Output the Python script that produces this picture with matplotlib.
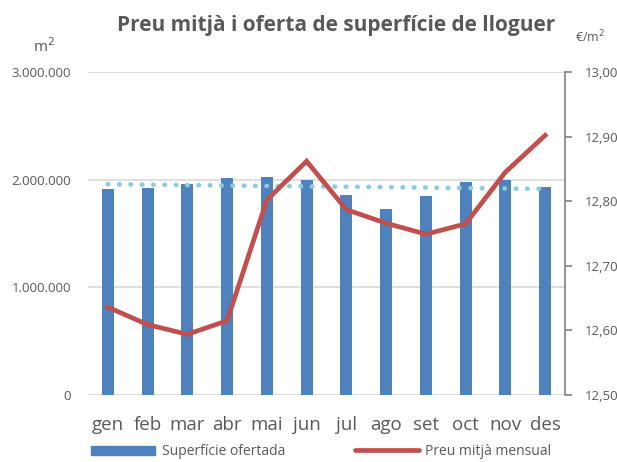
import matplotlib
matplotlib.use("Agg")
import matplotlib.pyplot as plt
from matplotlib.ticker import FuncFormatter

plt.rcParams['font.family'] = ['Open Sans', 'DejaVu Sans']

months = ['gen', 'feb', 'mar', 'abr', 'mai', 'jun', 'jul', 'ago', 'set', 'oct', 'nov', 'des']
superficie = [1910000, 1925000, 1960000, 2020000, 2025000, 1995000,
              1862000, 1730000, 1850000, 1978000, 2000000, 1935000]
preu = [12.636, 12.609, 12.594, 12.615, 12.802, 12.862,
        12.787, 12.766, 12.749, 12.765, 12.845, 12.902]
# tendència lineal (extrems llegits del gràfic)
tend_x = [0, 11]
tend_y = [1958000, 1915000]

blue = '#4F81BD'
red = '#C0504D'
trend_col = '#8DCBDD'
grey = '#595959'
grid_col = '#D9D9D9'

fig = plt.figure(figsize=(6.17, 4.62), dpi=100)
ax = fig.add_axes([0.1426, 0.145, 0.7731, 0.699])
ax2 = ax.twinx()

x = list(range(len(months)))
ax.bar(x, superficie, width=0.3, color=blue, zorder=2)
ax.plot(tend_x, tend_y, color=trend_col, lw=3.4, linestyle=(0, (0.1, 2.3)),
        dash_capstyle='round', zorder=3)
ax2.plot(x, preu, color=red, lw=3.4, solid_joinstyle='miter', zorder=4)

ax.set_xlim(-0.5, 11.5)
ax.set_ylim(0, 3000000)
ax.set_yticks([0, 1000000, 2000000, 3000000])
ax.yaxis.set_major_formatter(FuncFormatter(lambda v, p: f"{int(v):,}".replace(',', '.')))
ax.grid(axis='y', color=grid_col, lw=1.2, zorder=0)
ax.set_axisbelow(True)
for s in ['top', 'left', 'right', 'bottom']:
    ax.spines[s].set_visible(False)
ax.tick_params(axis='y', length=0, pad=12, labelsize=9.5, labelcolor=grey)
ax.set_xticks(x)
ax.set_xticklabels(months)
ax.tick_params(axis='x', length=0, pad=15, labelsize=13.5, labelcolor=grey)

ax2.set_ylim(12.5, 13.0)
ax2.set_yticks([12.5, 12.6, 12.7, 12.8, 12.9, 13.0])
ax2.yaxis.set_major_formatter(FuncFormatter(lambda v, p: f"{v:.2f}".replace('.', ',')))
for s in ['top', 'left', 'bottom']:
    ax2.spines[s].set_visible(False)
ax2.spines['right'].set_color('#808080')
ax2.spines['right'].set_linewidth(1.2)
ax2.tick_params(axis='y', direction='out', length=5, width=1.2, color='#808080',
                pad=9, labelsize=9.5, labelcolor=grey)
ax.set_zorder(ax2.get_zorder() - 1)
ax2.patch.set_visible(False)

fig.text(0.545, 0.945, 'Preu mitjà i oferta de superfície de lloguer', ha='center',
         va='center', fontsize=15, fontweight='bold', color=grey)
fig.text(0.072, 0.9, 'm$^2$', ha='center', va='center', fontsize=11, color=grey)
fig.text(0.957, 0.92, '€/m$^2$', ha='center', va='center', fontsize=9, color=grey)

h1 = plt.Rectangle((0, 0), 1, 1, color=blue)
h2 = plt.Line2D([0], [0], color=red, lw=3.4, solid_capstyle='round')
fig.legend([h1, h2], ['Superfície ofertada', 'Preu mitjà mensual'], loc='lower left',
           bbox_to_anchor=(0.1475, 0.006), ncol=2, frameon=False, handlelength=4.6,
           handleheight=0.7, columnspacing=5.0, handletextpad=0.5,
           borderpad=0, borderaxespad=0,
           labelcolor=grey, prop={'size': 10})

fig.savefig('out.png', dpi=100)
